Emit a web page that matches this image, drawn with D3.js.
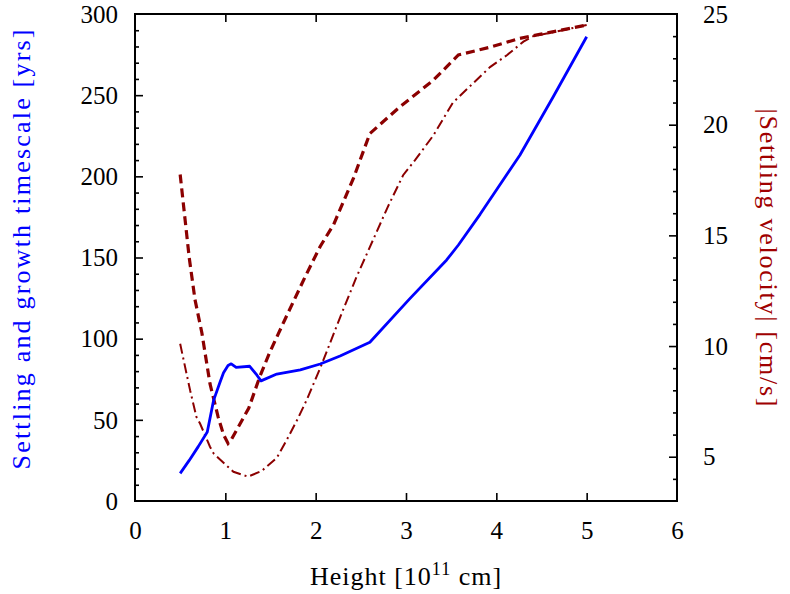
<!DOCTYPE html>
<html>
<head>
<meta charset="utf-8">
<script src="https://cdn.jsdelivr.net/npm/d3@7"></script>
<style>
  html, body { margin: 0; padding: 0; background: #fff; }
  svg text { font-family: "Liberation Serif", "DejaVu Serif", serif; }
</style>
</head>
<body>
<svg id="chart" width="790" height="594"></svg>
<script>
// ── Data ──────────────────────────────────────────────────
// blue: settling & growth timescale [yrs], left axis
const timescaleX = [0.5, 0.6, 0.7, 0.8, 0.87, 0.94, 0.98, 1.03, 1.065, 1.12, 1.27, 1.35, 1.395,
                    1.57, 1.83, 2.05, 2.27, 2.6, 3.04, 3.45, 3.58, 3.82, 4.26, 4.63, 5.0];
const timescaleY = [17, 25, 33.5, 42.5, 62, 73, 79, 83.5, 84.5, 82.3, 83, 77.5, 74,
                    78.2, 80.8, 84.4, 89.3, 97.8, 124.5, 148.5, 157.7, 176.6, 213, 249, 286];

// dashed: |settling velocity| [cm/s], right axis
const velDashX = [0.5, 0.6, 0.664, 0.74, 0.83, 0.92, 0.98, 1.03, 1.07, 1.26, 1.38, 1.49, 1.66,
                  1.88, 2.05, 2.2, 2.42, 2.6, 2.93, 3.3, 3.58, 3.93, 4.26, 4.48, 5.0];
const velDashY = [17.75, 14.0, 12.1, 10.6, 8.3, 6.8, 6.0, 5.6, 5.8, 7.2, 8.6, 9.7, 11.2,
                  13.1, 14.5, 15.5, 17.6, 19.6, 20.8, 22.0, 23.15, 23.5, 23.9, 24.08, 24.5];

// dash-dot: second velocity curve, right axis
const velDotX = [0.5, 0.61, 0.68, 0.72, 0.83, 0.87, 1.0, 1.09, 1.25, 1.4, 1.57, 1.68, 1.8,
                 1.9, 2.05, 2.3, 2.45, 2.8, 2.97, 3.1, 3.3, 3.52, 3.75, 3.93, 4.12, 4.3, 4.41, 4.6, 5.0];
const velDotY = [10.1, 8.0, 6.8, 6.5, 5.45, 5.15, 4.65, 4.32, 4.1, 4.35, 4.95, 5.76, 6.7,
                 7.56, 9.0, 11.6, 13.1, 16.3, 17.73, 18.4, 19.5, 21.0, 21.9, 22.6, 23.15, 23.75, 24.0, 24.15, 24.5];

const xTicks      = [0, 1, 2, 3, 4, 5, 6];
const leftTicks   = [0, 50, 100, 150, 200, 250, 300];
const rightTicks  = [5, 10, 15, 20, 25];

// ── Layout ────────────────────────────────────────────────
const svg = d3.select('#chart');
const M = { left: 135, right: 677, top: 14, bottom: 501 };

const x  = d3.scaleLinear().domain([0, 6]).range([M.left, M.right]);
const yL = d3.scaleLinear().domain([0, 300]).range([M.bottom, M.top]);
const yR = d3.scaleLinear().domain([3, 25]).range([M.bottom, M.top]);

const FS = 25;        // tick labels
const TS = 26;        // axis titles
const MAJ = 8, MIN = 4;

// ── Curves ────────────────────────────────────────────────
const zip = (a, b) => a.map((v, i) => [v, b[i]]);

const gCurves = svg.append('g').attr('class', 'curves');

gCurves.append('path')
  .datum(zip(velDotX, velDotY))
  .attr('d', d3.line().x(d => x(d[0])).y(d => yR(d[1])))
  .attr('fill', 'none')
  .attr('stroke', '#8b0000')
  .attr('stroke-width', 2)
  .attr('stroke-dasharray', '10,4,2,4');

gCurves.append('path')
  .datum(zip(velDashX, velDashY))
  .attr('d', d3.line().x(d => x(d[0])).y(d => yR(d[1])))
  .attr('fill', 'none')
  .attr('stroke', '#8b0000')
  .attr('stroke-width', 3.2)
  .attr('stroke-dasharray', '9,5');

gCurves.append('path')
  .datum(zip(timescaleX, timescaleY))
  .attr('d', d3.line().x(d => x(d[0])).y(d => yL(d[1])))
  .attr('fill', 'none')
  .attr('stroke', '#0000ff')
  .attr('stroke-width', 2.8)
  .attr('stroke-linejoin', 'round');

// ── Axes ──────────────────────────────────────────────────
function styleAxis(g) {
  g.select('.domain').remove();
  g.selectAll('.tick line').attr('stroke', '#000').attr('stroke-width', 1.6);
  g.selectAll('.tick text').attr('fill', '#000').style('font-size', FS + 'px');
}

// bottom x
svg.append('g')
  .attr('transform', `translate(0,${M.bottom})`)
  .call(d3.axisBottom(x).tickValues(xTicks).tickFormat(d3.format('d'))
    .tickSizeInner(-MAJ).tickSizeOuter(0))
  .call(styleAxis)
  .call(g => g.selectAll('.tick text').attr('y', 20))
  .call(g => g.selectAll('.tick').filter(d => d === 0 || d === 6).select('line').remove());

// top x (mirror ticks)
svg.append('g')
  .attr('transform', `translate(0,${M.top})`)
  .call(d3.axisTop(x).tickValues(xTicks.slice(1, -1)).tickFormat('')
    .tickSizeInner(-MAJ).tickSizeOuter(0))
  .call(styleAxis);

// left y: minor then major
svg.append('g')
  .attr('transform', `translate(${M.left},0)`)
  .call(d3.axisLeft(yL).tickValues(d3.range(10, 300, 10).filter(v => v % 50)).tickFormat('')
    .tickSizeInner(-MIN).tickSizeOuter(0))
  .call(styleAxis);
svg.append('g')
  .attr('transform', `translate(${M.left},0)`)
  .call(d3.axisLeft(yL).tickValues(leftTicks)
    .tickSizeInner(-MAJ).tickSizeOuter(0))
  .call(styleAxis)
  .call(g => g.selectAll('.tick').filter(d => d === 0 || d === 300).select('line').remove())
  .call(g => g.selectAll('.tick text').attr('x', -17).attr('dy', '0.33em'));

// right y: minor then major
svg.append('g')
  .attr('transform', `translate(${M.right},0)`)
  .call(d3.axisRight(yR).tickValues(d3.range(4, 25, 1).filter(v => v % 5)).tickFormat('')
    .tickSizeInner(-MIN).tickSizeOuter(0))
  .call(styleAxis);
svg.append('g')
  .attr('transform', `translate(${M.right},0)`)
  .call(d3.axisRight(yR).tickValues(rightTicks)
    .tickSizeInner(-MAJ).tickSizeOuter(0))
  .call(styleAxis)
  .call(g => g.selectAll('.tick').filter(d => d === 25).select('line').remove())
  .call(g => g.selectAll('.tick text').attr('x', 26).attr('dy', '0.33em'));

// frame
svg.append('rect')
  .attr('x', M.left).attr('y', M.top)
  .attr('width', M.right - M.left).attr('height', M.bottom - M.top)
  .attr('fill', 'none').attr('stroke', '#000').attr('stroke-width', 2);

// ── Axis titles ───────────────────────────────────────────
const xt = svg.append('text')
  .attr('x', (M.left + M.right) / 2).attr('y', 585)
  .attr('text-anchor', 'middle')
  .style('font-size', TS + 'px')
  .style('letter-spacing', '1px')
  .attr('fill', '#000');
xt.append('tspan').text('Height [10');
xt.append('tspan').attr('dy', -10).style('font-size', '18px').text('11');
xt.append('tspan').attr('dy', 10).text(' cm]');

svg.append('text')
  .attr('transform', `translate(30,${(M.top + M.bottom) / 2 - 8}) rotate(-90)`)
  .attr('text-anchor', 'middle')
  .style('font-size', TS + 'px')
  .attr('textLength', 440)
  .attr('lengthAdjust', 'spacing')
  .attr('fill', '#0000ff')
  .text('Settling and growth timescale [yrs]');

svg.append('text')
  .attr('transform', `translate(760,${(M.top + M.bottom) / 2}) rotate(90)`)
  .attr('text-anchor', 'middle')
  .style('font-size', TS + 'px')
  .attr('textLength', 298)
  .attr('lengthAdjust', 'spacing')
  .attr('fill', '#a00000')
  .text('|Settling velocity| [cm/s]');
</script>
</body>
</html>
